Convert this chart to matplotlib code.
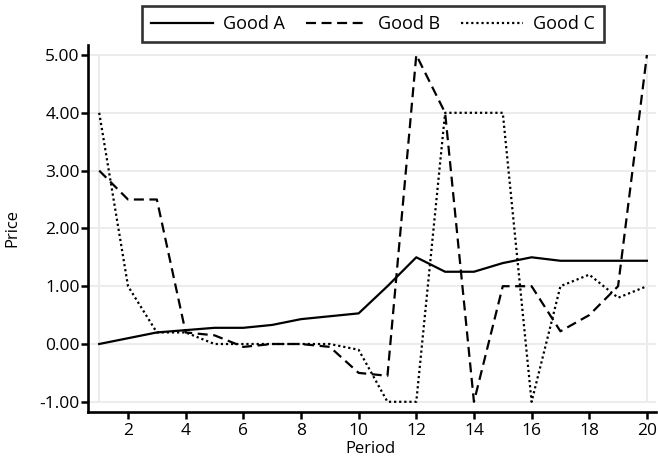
import matplotlib
matplotlib.use('Agg')
import matplotlib.pyplot as plt

period = list(range(1, 21))
good_a = [0.0, 0.1, 0.2, 0.24, 0.28, 0.28, 0.33, 0.43, 0.48, 0.53,
          1.0, 1.5, 1.25, 1.25, 1.4, 1.5, 1.44, 1.44, 1.44, 1.44]
good_b = [3.0, 2.5, 2.5, 0.2, 0.15, -0.05, 0.0, 0.0, -0.05, -0.5,
          -0.55, 5.0, 4.0, -1.0, 1.0, 1.0, 0.22, 0.5, 1.0, 5.0]
good_c = [4.0, 1.0, 0.2, 0.2, 0.0, 0.0, 0.0, 0.0, 0.0, -0.1,
          -1.0, -1.0, 4.0, 4.0, 4.0, -1.0, 1.0, 1.2, 0.8, 1.0]
x_ticks = list(range(2, 21, 2))
y_ticks = [-1, 0, 1, 2, 3, 4, 5]

plt.rcParams['font.family'] = ['Open Sans', 'DejaVu Sans']

fig = plt.figure(figsize=(6.58, 4.59), dpi=100)
W, H = 658, 459
ax = fig.add_axes([88 / W, 1 - 412 / H, (656 - 88) / W, (412 - 45) / H])

grid_col = '#ececec'
ax.set_axisbelow(True)
ax.yaxis.grid(True, color=grid_col, lw=1.5)
ax.vlines([1, 20], -1, 5, color=grid_col, lw=1.5, zorder=0)

ax.plot(period, good_a, color='black', lw=1.6, ls='-', label='Good A')
ax.plot(period, good_b, color='black', lw=1.6, ls=(0, (4.5, 2.5)), label='Good B')
ax.plot(period, good_c, color='black', lw=1.6, ls=(0, (1, 1.3)), label='Good C')

ax.set_xlim(1 - 11.2 / 28.83, 20 + 9.1 / 28.83)
ax.set_ylim(-1 - 10.2 / 57.8, 5 + 10 / 57.8)
ax.set_xticks(x_ticks)
ax.set_yticks(y_ticks)
ax.set_yticklabels(['%.2f' % v for v in y_ticks])

for side in ['top', 'right']:
    ax.spines[side].set_visible(False)
for side in ['left', 'bottom']:
    ax.spines[side].set_linewidth(1.9)
ax.tick_params(axis='both', length=5, width=1.8, labelsize=12.5, color='black')
ax.tick_params(axis='y', pad=1)
ax.tick_params(axis='x', pad=3)

fig.text(370 / W, 1 - 449 / H, 'Period', ha='center', va='center', fontsize=12)
fig.text(12 / W, 1 - 228 / H, 'Price', ha='center', va='center', fontsize=12, rotation=90)

leg = fig.legend(loc='center', bbox_to_anchor=(373 / W, 1 - 24 / H), ncol=3,
                 fontsize=13, frameon=True, fancybox=False, handlelength=3.4,
                 handletextpad=0.55, columnspacing=1.2, borderpad=0.5)
leg.get_frame().set_edgecolor('black')
leg.get_frame().set_linewidth(1.9)

fig.savefig('out.png', dpi=100)
